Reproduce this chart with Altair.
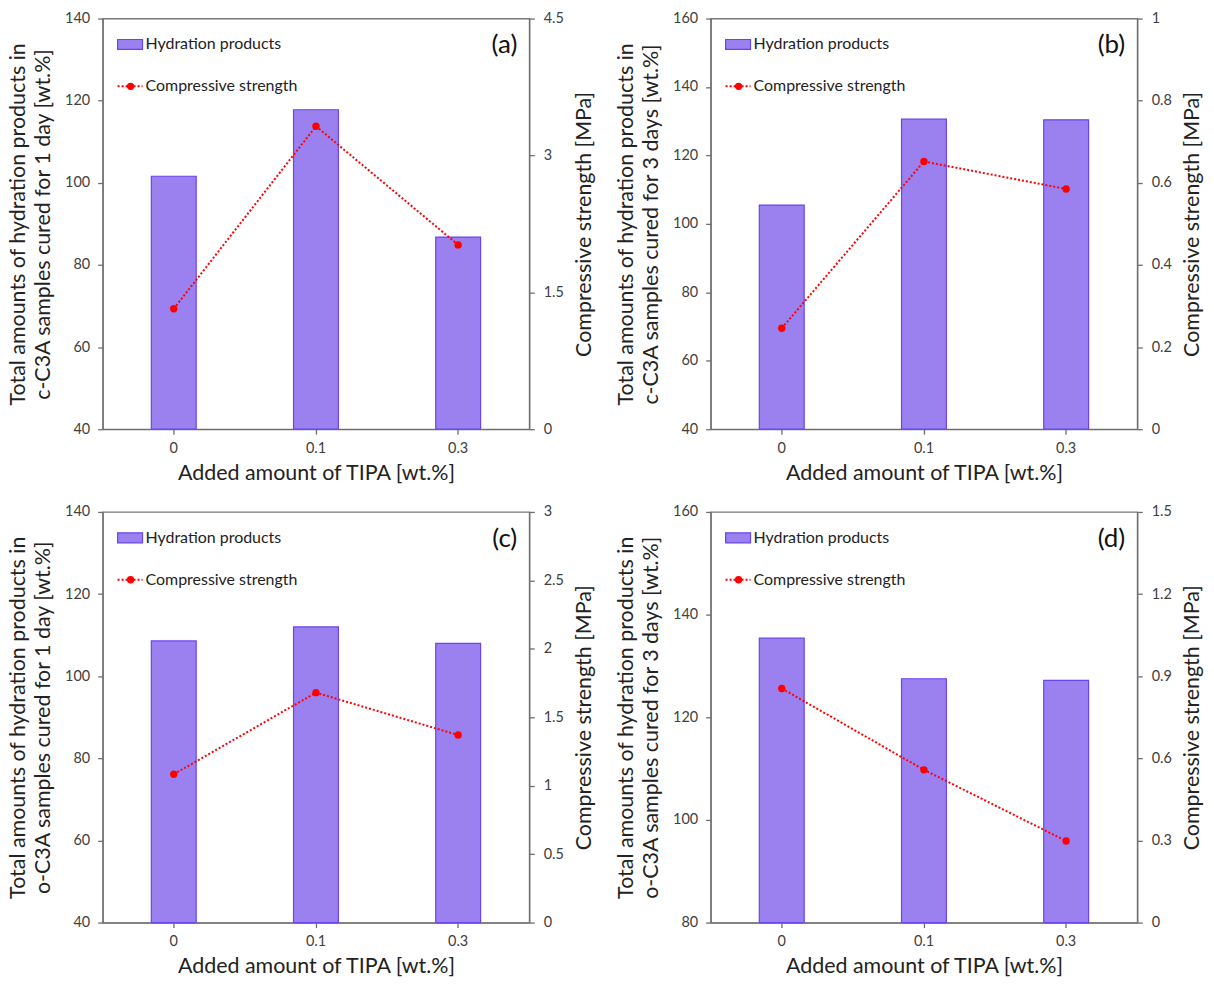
import altair as alt
import pandas as pd

tipa = ["0", "0.1", "0.3"]

hyd_a = [101.6, 117.8, 86.8]
cs_a = [1.32, 3.32, 2.02]
hyd_b = [105.5, 130.6, 130.4]
cs_b = [0.246, 0.652, 0.585]
hyd_c = [108.6, 112.0, 108.0]
cs_c = [1.084, 1.68, 1.37]
hyd_d = [135.4, 127.5, 127.2]
cs_d = [0.855, 0.558, 0.298]

left_titles = {
    "a": ["Total amounts of hydration products in", "c-C3A samples cured for 1 day [wt.%]"],
    "b": ["Total amounts of hydration products in", "c-C3A samples cured for 3 days [wt.%]"],
    "c": ["Total amounts of hydration products in", "o-C3A samples cured for 1 day [wt.%]"],
    "d": ["Total amounts of hydration products in", "o-C3A samples cured for 3 days [wt.%]"],
}
left_ticks = {
    "a": [40, 60, 80, 100, 120, 140],
    "b": [40, 60, 80, 100, 120, 140, 160],
    "c": [40, 60, 80, 100, 120, 140],
    "d": [80, 100, 120, 140, 160],
}
right_ticks = {
    "a": [0, 1.5, 3, 4.5],
    "b": [0, 0.2, 0.4, 0.6, 0.8, 1],
    "c": [0, 0.5, 1, 1.5, 2, 2.5, 3],
    "d": [0, 0.3, 0.6, 0.9, 1.2, 1.5],
}

FONT = "Lato"
BAR_FILL = "#9b80f0"
BAR_STROKE = "#6a44f0"
RED = "#ff0000"
W, H = 428, 412
TITLE_SIZE = 21.5


def panel(key, hyd, cs):
    df = pd.DataFrame({"tipa": tipa, "hyd": hyd, "cs": cs})
    lt = left_ticks[key]
    rt = right_ticks[key]
    base = alt.Chart(df)
    x = alt.X(
        "tipa:N",
        sort=tipa,
        scale=alt.Scale(paddingInner=0, paddingOuter=0),
        axis=alt.Axis(title="Added amount of TIPA [wt.%]", labelAngle=0,
                      labelPadding=7, titlePadding=8),
    )
    bars = base.mark_bar(size=45, fill=BAR_FILL, stroke=BAR_STROKE, strokeWidth=1.2).encode(
        x=x,
        y=alt.Y("hyd:Q",
                scale=alt.Scale(domain=[lt[0], lt[-1]], zero=False, nice=False),
                axis=alt.Axis(orient="left", values=lt, title=left_titles[key],
                              labelPadding=8, titlePadding=10)),
        y2=alt.datum(lt[0]),
    )
    line = base.mark_line(
        color=RED, strokeDash=[2, 2], strokeWidth=2,
        point=alt.OverlayMarkDef(filled=True, color=RED, size=55, opacity=1),
    ).encode(
        x=x,
        y=alt.Y("cs:Q",
                scale=alt.Scale(domain=[rt[0], rt[-1]], zero=False, nice=False),
                axis=alt.Axis(orient="right", values=rt,
                              labelExpr="'' + datum.value",
                              title="Compressive strength [MPa]",
                              titleAngle=270, titleBaseline="middle", titleAlign="center",
                              titleX=55, titleY=H / 2,
                              labelPadding=9)),
    )
    one = alt.Chart(pd.DataFrame({"k": [0]}))
    leg_rect = one.mark_rect(fill=BAR_FILL, stroke=BAR_STROKE, strokeWidth=1.2).encode(
        x=alt.value(15), x2=alt.value(40), y=alt.value(21), y2=alt.value(31))
    leg_t1 = one.mark_text(text="Hydration products", align="left", baseline="middle",
                           font=FONT, fontSize=16, color="#222222").encode(
        x=alt.value(43), y=alt.value(26))
    leg_rule = one.mark_rule(color=RED, strokeDash=[2, 2], strokeWidth=2).encode(
        x=alt.value(15), x2=alt.value(40), y=alt.value(68))
    leg_dot = one.mark_circle(color=RED, size=55, opacity=1).encode(
        x=alt.value(28), y=alt.value(68))
    leg_t2 = one.mark_text(text="Compressive strength", align="left", baseline="middle",
                           font=FONT, fontSize=16, color="#222222").encode(
        x=alt.value(43), y=alt.value(68))
    lab = one.mark_text(text="(%s)" % key, align="right", baseline="middle",
                        font=FONT, fontSize=26, color="#111111").encode(
        x=alt.value(416), y=alt.value(27))
    return alt.layer(bars, line, leg_rect, leg_t1, leg_rule, leg_dot, leg_t2, lab).resolve_scale(
        y="independent").properties(width=W, height=H)


chart = alt.concat(
    panel("a", hyd_a, cs_a), panel("b", hyd_b, cs_b),
    panel("c", hyd_c, cs_c), panel("d", hyd_d, cs_d),
    columns=2, spacing=alt.RowColnumber(row=83, column=182), bounds="flush",
).properties(
    padding={"left": 7, "top": 8, "right": 10, "bottom": 10},
    background="white",
).configure_view(
    stroke="#7a7a7a", strokeWidth=1.3,
).configure_axis(
    grid=False,
    labelFont=FONT, labelFontSize=14.5, labelColor="#404040",
    titleFont=FONT, titleFontSize=TITLE_SIZE, titleColor="#222222", titleFontWeight="normal",
    domainColor="#6e6e6e", domainWidth=1.3, tickColor="#6e6e6e", tickWidth=1.3, tickSize=5,
    titleLineHeight=25,
)

chart.save("out.html", embed_options={"renderer": "svg", "actions": False})
